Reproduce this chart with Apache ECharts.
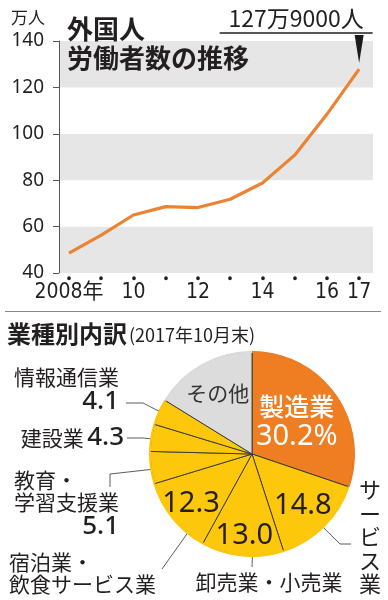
<!DOCTYPE html>
<html><head><meta charset="utf-8">
<script src="https://cdn.jsdelivr.net/npm/echarts@6/dist/echarts.min.js"></script>
<style>html,body{margin:0;padding:0;background:#fff}#c{width:388px;height:600px}</style>
</head><body><div id="c"></div>
<script>
// ---- data ----
const years = [2008, 2009, 2010, 2011, 2012, 2013, 2014, 2015, 2016, 2017];
const workers = [48.6, 56.3, 65.0, 68.6, 68.2, 71.8, 78.8, 90.8, 108.4, 127.9]; // 万人
const yearLabels = ['2008年', '', '10', '', '12', '', '14', '', '16', '17'];
const yTicks = [40, 60, 80, 100, 120, 140];
const latestLabel = '127万9000人';
const industries = ['製造業', 'サービス業', '卸売業・小売業', '宿泊業・飲食サービス業', '教育・学習支援業', '建設業', '情報通信業', 'その他'];
const shares = [30.2, 14.8, 13.0, 12.3, 5.1, 4.3, 4.1, 16.2];

// ---- layout / style ----
const CJK = '"Noto Sans CJK JP", "Noto Sans", sans-serif';
const NUM = '"Noto Sans", "Noto Sans CJK JP", sans-serif';
const INK = '#231f20';
const PIE_CX = 252, PIE_CY = 454, PIE_R = 102;
const total = shares.reduce((a, b) => a + b, 0);
const cum = [];
shares.reduce((acc, v, i) => { cum[i] = acc; return acc + v; }, 0);
function angleAt(i, t) { return (cum[i] + t * shares[i]) / total * 360; }
function polar(deg, rf) {
  const a = deg * Math.PI / 180;
  return [PIE_CX + rf * PIE_R * Math.sin(a), PIE_CY - rf * PIE_R * Math.cos(a)];
}
const innerPlace = { 0: 0.54, 1: 0.71, 2: 0.8, 3: 0.77, 7: 0.69 };
const outerPlace = {
  1: { t: 0.51, rf: 0.93, x: 370, y: 537, align: 'center', elbows: [[340, 544], [351, 544]] },
  2: { t: 0.38, rf: 1.0, x: 269, y: 582, align: 'center', elbows: [[252, 567]] },
  3: { t: 0.24, rf: 0.94, x: 9, y: 573, align: 'left', elbows: [[162, 569]] },
  4: { t: 0.43, rf: 0.88, x: 119, y: 505, align: 'right', elbows: [[110, 474], [110, 487]] },
  5: { t: 0.48, rf: 0.89, x: 124, y: 438, align: 'right', elbows: [[143, 438], [127, 438]] },
  6: { t: 0.5, rf: 0.86, x: 119, y: 391, align: 'right', elbows: [[143, 403], [126, 403]] }
};
function sliceColor(i) { return i === 0 ? '#ef7d22' : (i === industries.length - 1 ? '#dcdcdc' : '#fdc70c'); }

const chart = echarts.init(document.getElementById('c'), null, { renderer: 'canvas' });
const option = {
  animation: false,
  backgroundColor: '#fff',
  title: [
    { text: '万人', left: 11, top: 9, padding: 0, textStyle: { fontFamily: CJK, fontSize: 17, fontWeight: 'normal', color: INK } },
    { text: '外国人\n労働者数の推移', left: 67, top: 15, padding: 0, textStyle: { fontFamily: CJK, fontSize: 26, lineHeight: 29, fontWeight: 'bold', color: INK } },
    { text: '{a|業種別内訳}{b|(2017年10月末)}', left: 7, top: 320, padding: 0,
      textStyle: { fontWeight: 'normal', rich: {
        a: { fontFamily: CJK, fontSize: 24, fontWeight: 'bold', color: INK, lineHeight: 28 },
        b: { fontFamily: CJK, fontSize: 18, fontWeight: 'normal', color: INK, padding: [3, 0, 0, 2] }
      } } }
  ],
  graphic: [
    { type: 'line', shape: { x1: 5, y1: 311.5, x2: 381, y2: 311.5 }, style: { stroke: '#888', lineWidth: 1 }, silent: true }
  ],
  grid: { left: 59, right: 15, top: 41, bottom: 327, containLabel: false, outerBoundsMode: 'none' },
  xAxis: {
    type: 'value', min: 2007.69, max: 2017.43, offset: 5,
    axisLine: { show: false }, splitLine: { show: false },
    axisTick: { show: true, length: 0.5, customValues: years, lineStyle: { width: 3.6, color: INK, cap: 'round' } },
    axisLabel: { customValues: years, margin: 4, fontFamily: '"Liberation Sans Narrow", "DejaVu Sans Condensed", "Noto Sans CJK JP", sans-serif', fontSize: 21, color: INK,
      formatter: v => yearLabels[years.indexOf(Math.round(v))] || '' }
  },
  yAxis: {
    type: 'value', min: yTicks[0], max: yTicks[yTicks.length - 1], interval: 20,
    axisLine: { show: true, lineStyle: { color: '#555', width: 1 } },
    axisTick: { show: true, length: 6, lineStyle: { color: '#555' } },
    axisLabel: { margin: 15, fontFamily: NUM, fontSize: 19, color: INK },
    splitLine: { show: false },
    splitArea: { show: true, areaStyle: { color: ['#e6e6e6', '#ffffff'] } }
  },
  series: [
    {
      type: 'line', data: years.map((y, i) => [y, workers[i]]), showSymbol: false, silent: true,
      lineStyle: { color: '#ec8333', width: 3.2 },
      markPoint: {
        silent: true,
        symbol: 'path://M0,0L10,0L5,30Z', symbolSize: [9, 28], symbolOffset: [0, -20], symbolKeepAspect: false,
        itemStyle: { color: '#1a1a1a' },
        label: {
          show: true, position: 'top', distance: 1, offset: [-63, 0],
          formatter: '{t|' + latestLabel + '}\n{u|}',
          rich: {
            t: { fontFamily: CJK, fontSize: 23, color: INK, lineHeight: 27, align: 'center' },
            u: { width: 153, height: 1.5, lineHeight: 2, backgroundColor: INK, align: 'center' }
          }
        },
        data: [{ coord: [years[years.length - 1], workers[workers.length - 1]] }]
      }
    },
    {
      type: 'pie', center: [PIE_CX, PIE_CY], radius: PIE_R, startAngle: 90, clockwise: true,
      avoidLabelOverlap: false, silent: true,
      itemStyle: { borderColor: '#333', borderWidth: 0.9 },
      data: industries.map((n, i) => ({ name: n, value: shares[i], itemStyle: { color: sliceColor(i) } })),
      label: {
        show: true, position: 'inside',
        formatter: p => {
          const i = p.dataIndex;
          if (i === 0) return '{w1|' + industries[0] + '}\n{w2|' + shares[0].toFixed(1) + '%}';
          if (i === industries.length - 1) return '{o|' + industries[i] + '}';
          if (i <= 3) return '{n|' + shares[i].toFixed(1) + '}';
          return '';
        },
        rich: {
          w1: { fontFamily: CJK, fontSize: 25, color: '#fff', lineHeight: 30, fontWeight: 500 },
          w2: { fontFamily: NUM, fontSize: 29, color: '#fff', lineHeight: 30 },
          n: { fontFamily: NUM, fontSize: 29, color: INK },
          o: { fontFamily: CJK, fontSize: 21, color: '#333' }
        }
      },
      labelLine: { show: false },
      labelLayout: p => {
        const i = p.dataIndex;
        if (innerPlace[i] == null) return {};
        const pt = polar(angleAt(i, 0.5), innerPlace[i]);
        return { x: pt[0], y: pt[1], align: 'center', verticalAlign: 'middle' };
      }
    },
    {
      type: 'pie', center: [PIE_CX, PIE_CY], radius: [PIE_R - 1, PIE_R + 1], startAngle: 90, clockwise: true,
      avoidLabelOverlap: false, silent: true,
      itemStyle: { borderWidth: 0 },
      data: industries.map((n, i) => ({
        name: n, value: shares[i], itemStyle: { color: sliceColor(i) },
        label: { show: outerPlace[i] != null }, labelLine: { show: outerPlace[i] != null }
      })),
      label: {
        show: true, position: 'outside',
        formatter: p => {
          const i = p.dataIndex, name = industries[i], v = shares[i].toFixed(1);
          if (i === 1) return name.split('').map(c => '{sv|' + c + '}').join('\n');
          if (i === 2) return '{n|' + name + '}';
          if (i === 3) return name.split('・').map((s, k, a) => '{n|' + s + (k < a.length - 1 ? '・' : '') + '}').join('\n');
          if (i === 4) return name.split('・').map((s, k, a) => '{n|' + s + (k < a.length - 1 ? '・' : '') + '}').join('\n') + '\n{v|' + v + '}';
          if (i === 5) return '{n|' + name + '} {v|' + v + '}';
          if (i === 6) return '{n|' + name + '}\n{v|' + v + '}';
          return '';
        },
        rich: {
          n: { fontFamily: CJK, fontSize: 21, color: INK, lineHeight: 22, align: 'left' },
          v: { fontFamily: NUM, fontSize: 26, fontWeight: 500, color: INK, lineHeight: 28, align: 'right' },
          sv: { fontFamily: CJK, fontSize: 22, color: INK, lineHeight: 23.5, align: 'center' }
        }
      },
      labelLine: { show: true, lineStyle: { color: '#333', width: 0.8 } },
      labelLayout: p => {
        const o = outerPlace[p.dataIndex];
        if (!o) return {};
        const anchor = polar(angleAt(p.dataIndex, o.t), o.rf);
        return { x: o.x, y: o.y, align: o.align, verticalAlign: 'middle', labelLinePoints: [anchor].concat(o.elbows) };
      }
    }
  ]
};
chart.setOption(option);
</script>
</body></html>
